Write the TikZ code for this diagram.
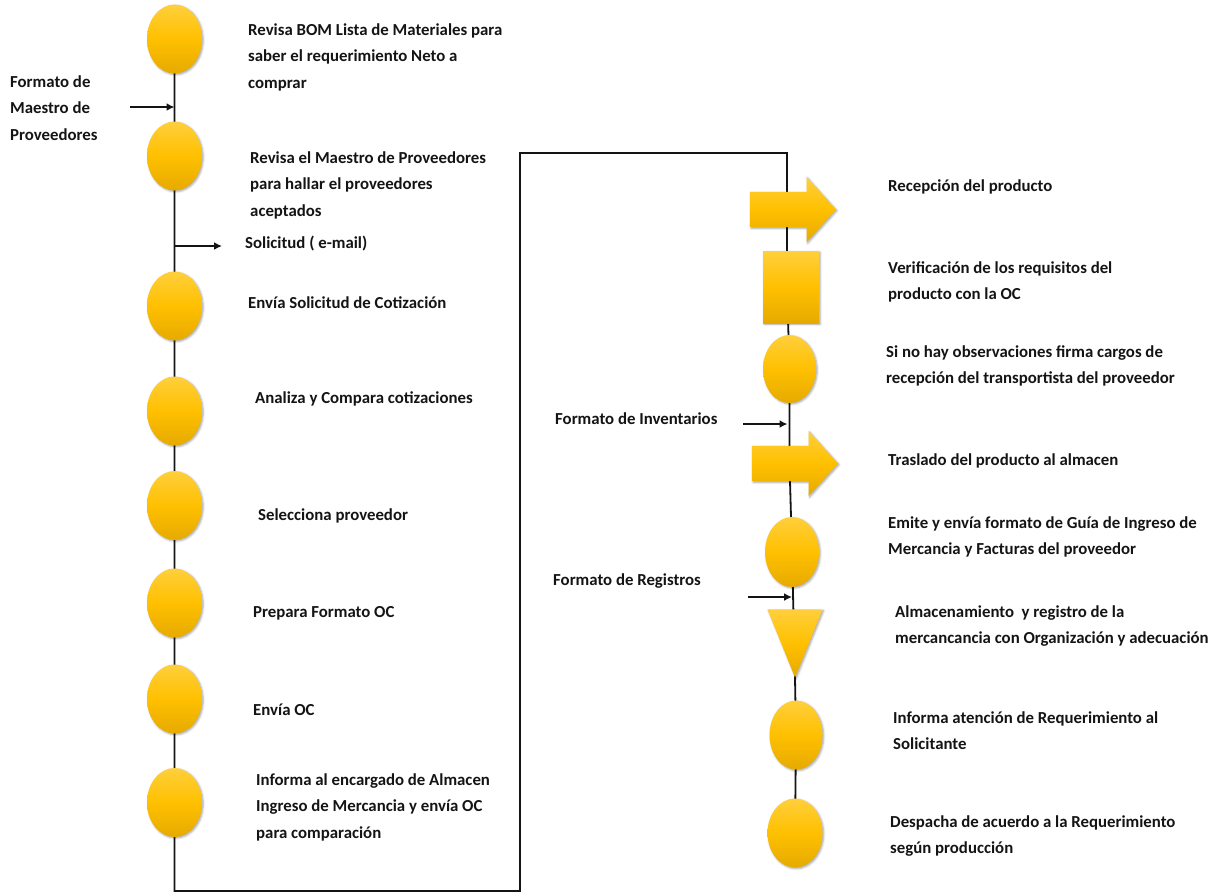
\documentclass[tikz,border=0pt]{standalone}
\usepackage{fontspec}
\setmainfont{Carlito}
\usetikzlibrary{shapes.geometric,shapes.arrows,arrows.meta,shadows.blur}
\pgfdeclarelayer{background}
\pgfsetlayers{background,main}

\definecolor{goldA}{RGB}{255,207,60}
\definecolor{goldB}{RGB}{255,192,0}
\definecolor{goldC}{RGB}{230,170,0}
\definecolor{ink}{RGB}{20,20,20}

\begin{document}
\begin{tikzpicture}[x=1pt,y=-1pt,
  stepfill/.style={top color=goldA, bottom color=goldC, middle color=goldB, draw=none,
    blur shadow={shadow xshift=1.2pt, shadow yshift=-1.2pt, shadow blur steps=4,
      shadow opacity=35, shadow blur radius=2pt}},
  oval/.style={stepfill, ellipse, inner sep=0pt, minimum width=55pt, minimum height=69pt},
  box/.style={stepfill, rectangle, inner sep=0pt, minimum width=56pt, minimum height=72pt},
  blockarrow/.style={stepfill, single arrow, single arrow head extend=15pt,
    single arrow tip angle=96, single arrow head indent=0pt,
    text height=17.5pt, text depth=17.5pt, text width=0pt,
    minimum width=65pt, minimum height=86pt, inner sep=0pt},
  tri/.style={stepfill, isosceles triangle, isosceles triangle stretches,
    shape border rotate=-90, minimum width=55pt, minimum height=68pt, inner sep=0pt},
  lbl/.style={anchor=base west, align=left, inner sep=0pt, text=ink,
    font=\bfseries\fontsize{16.8}{26.5}\selectfont},
  flow/.style={draw=ink, line width=1.8pt},
  feed/.style={draw=ink, line width=1.7pt, -{Latex[length=8pt,width=8pt]}}
]
\useasboundingbox (0,0) rectangle (1220,895);

% left column: purchasing steps
\node[oval] (e1) at (174.5,39) {};
\node[oval] (e2) at (174.5,156) {};
\node[oval] (e3) at (174.5,306) {};
\node[oval] (e4) at (174.5,411) {};
\node[oval] (e5) at (174.5,505.5) {};
\node[oval] (e6) at (174.5,603) {};
\node[oval] (e7) at (174.5,699) {};
\node[oval] (e8) at (174.5,802.5) {};

% right column: reception and storage
\node[blockarrow] (a1) at (785,209.5) {};
\node[box] (sq) at (791,287) {};
\node[oval, minimum width=53pt, minimum height=68pt] (e9) at (789.5,369) {};
\node[blockarrow] (a2) at (787,463.5) {};
\node[oval, minimum width=54pt, minimum height=70pt] (e10) at (792,552) {};
\node[tri, anchor=apex] (tri) at (795,678) {};
\node[oval, minimum width=53pt] (e11) at (796,735) {};
\node[oval] (e12) at (795,833) {};

% route joining both columns
\coordinate (b1) at (174.5,891);
\coordinate (b2) at (520,891);
\coordinate (b3) at (520,153);
\coordinate (b4) at (787,153);

\begin{pgfonlayer}{background}
\draw[flow] (e1.center) -- (e2.center) -- (e3.center) -- (e4.center) -- (e5.center)
  -- (e6.center) -- (e7.center) -- (e8.center) -- (b1) -- (b2) -- (b3) -- (b4)
  -- (b4 |- sq.center) -- (e9.center) -- (e9.center |- a2.center) -- (e10.center)
  -- (tri.apex) -- (e11.center) -- (e12.center);
\end{pgfonlayer}

% inputs and outputs
\coordinate (f1) at (130,107);
\draw[feed] (f1) -- (f1 -| e1.center);
\coordinate (s1) at (222,246);
\draw[feed] (s1 -| e2.center) -- (s1);
\coordinate (fi) at (743,424);
\draw[feed] (fi) -- ([xshift=-2pt]fi -| e9.center);
\coordinate (fr) at (748,597);
\draw[feed] (fr) -- (fr -| e10.center);

% labels (anchored at the baseline of their last line)
\node[lbl] (t1) at (248,88) {Revisa BOM Lista de Materiales para\\saber el requerimiento Neto a\\comprar};
\node[lbl] (l1) at (10,140) {Formato de\\Maestro de\\Proveedores};
\node[lbl] (t2) at (250,216) {Revisa el Maestro de Proveedores\\para hallar el proveedores\\aceptados};
\node[lbl] (sol) at (245,248) {Solicitud ( e-mail)};
\node[lbl] (t3) at (248,308) {Envía Solicitud de Cotización};
\node[lbl] (t4) at (255,403) {Analiza y Compara cotizaciones};
\node[lbl] (t5) at (258,520) {Selecciona proveedor};
\node[lbl] (t6) at (253,617) {Prepara Formato OC};
\node[lbl] (t7) at (253,715) {Envía OC};
\node[lbl] (t8) at (256,838) {Informa al encargado de Almacen\\Ingreso de Mercancia y envía OC\\para comparación};

\node[lbl] (r1) at (888,191) {Recepción del producto};
\node[lbl] (r2) at (888,299.5) {Verificación de los requisitos del\\producto con la OC};
\node[lbl] (r3) at (886,383.5) {Si no hay observaciones firma cargos de\\recepción del transportista del proveedor};
\node[lbl] (li) at (555,424) {Formato de Inventarios};
\node[lbl] (r4) at (888,465) {Traslado del producto al almacen};
\node[lbl] (r5) at (888,554.5) {Emite y envía formato de Guía de Ingreso de\\Mercancia y Facturas del proveedor};
\node[lbl] (lr) at (553,585) {Formato de Registros};
\node[lbl] (r6) at (895,643.5) {Almacenamiento~ y registro de la\\mercancancia con Organización y adecuación};
\node[lbl] (r7) at (893,749.5) {Informa atención de Requerimiento al\\Solicitante};
\node[lbl] (r8) at (890,853.5) {Despacha de acuerdo a la Requerimiento\\según producción};
\end{tikzpicture}
\end{document}
